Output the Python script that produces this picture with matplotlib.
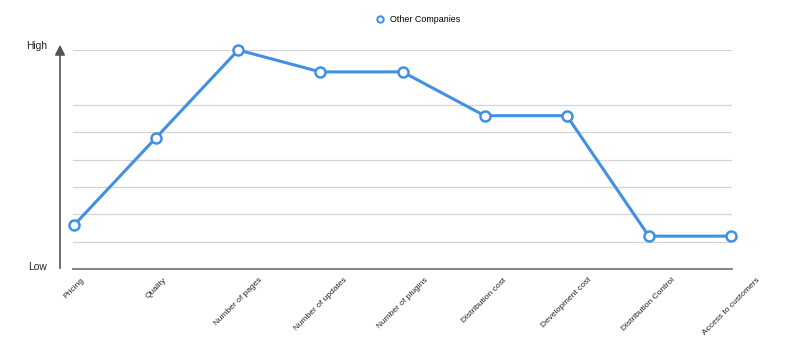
import matplotlib
matplotlib.use("Agg")
import matplotlib.pyplot as plt
from matplotlib.lines import Line2D

categories = ["Pricing", "Quality", "Number of pages", "Number of updates",
              "Number of plugins", "Distribution cost", "Development cost",
              "Distribution Control", "Access to customers"]
values = [4, 12, 20, 18, 18, 14, 14, 3, 3]
grid_levels = [2.5, 5, 7.5, 10, 12.5, 15, 20]
series_name = "Other Companies"

plt.rcParams['font.family'] = ['Liberation Sans', 'DejaVu Sans']

W, H = 800, 353
fig = plt.figure(figsize=(W / 100, H / 100), dpi=100)
left, right, bottom, top = 73, 732, 269, 50
ax = fig.add_axes([left / W, 1 - bottom / H, (right - left) / W, (bottom - top) / H])

color = '#4290e2'
x = list(range(len(categories)))
ax.plot(x, values, color=color, lw=2.2, marker='o', markersize=7.2,
        markerfacecolor='white', markeredgecolor=color, markeredgewidth=1.8,
        clip_on=False, zorder=5)

for g in grid_levels:
    ax.axhline(g, color='#d4d4d4', lw=0.9, zorder=1)

ax.set_ylim(0, 20)
pad = 1 / 82.1
ax.set_xlim(-pad, len(categories) - 1 + pad)
for s in ['top', 'right', 'left']:
    ax.spines[s].set_visible(False)
ax.spines['bottom'].set_color('#7a7a7a')
ax.spines['bottom'].set_linewidth(1.3)
ax.set_yticks([])
ax.set_xticks(x)
ax.set_xticklabels(categories, rotation=45, ha='center', va='top', fontsize=6, color='#222222')
ax.tick_params(axis='x', length=0, pad=5.5)

# y arrow
fig.add_artist(matplotlib.patches.FancyArrowPatch(
    (60 / W, 1 - 271 / H), (60 / W, 1 - 42 / H), transform=fig.transFigure,
    arrowstyle='-|>,head_length=4,head_width=2.0', color='#555555', lw=1.2,
    mutation_scale=1.5))
fig.text(47 / W, 1 - 46 / H, "High", ha='right', va='center', fontsize=7.4, color='#222222')
fig.text(47 / W, 1 - 267 / H, "Low", ha='right', va='center', fontsize=7.4, color='#222222')

handle = Line2D([], [], color=color, marker='o', linestyle='None', markersize=4.5,
                markerfacecolor='white', markeredgewidth=1.5)
fig.legend([handle], [series_name], loc='center', bbox_to_anchor=(418 / W, 1 - 20 / H),
           frameon=False, fontsize=6.4, handletextpad=0.6, handlelength=1.0)

fig.savefig("out.png", dpi=100)
